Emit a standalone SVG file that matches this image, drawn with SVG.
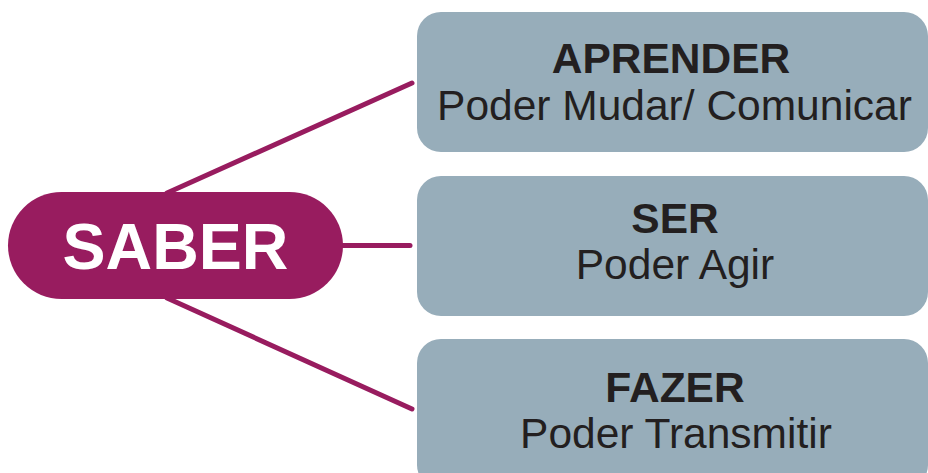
<svg xmlns="http://www.w3.org/2000/svg" width="928" height="473" viewBox="0 0 928 473">
<style>
.box{fill:#97adba}
.t{font-family:"Liberation Sans",Arial,sans-serif;fill:#231f20;text-anchor:middle}
.b{font-weight:bold;font-size:42.5px}
.s{font-size:42.5px}
.c{stroke:#981c5f;stroke-width:5;stroke-linecap:round;fill:none}
</style>
<rect width="928" height="473" fill="#ffffff"/>
<g id="connectors">
<line class="c" x1="167" y1="193" x2="412" y2="83"/>
<line class="c" x1="340" y1="245.5" x2="410" y2="245.5"/>
<line class="c" x1="167" y1="298" x2="412" y2="409"/>
</g>
<g id="saber">
<rect x="8" y="192" width="335" height="107" rx="53.5" fill="#981c5f"/>
<text x="175.5" y="269" font-family="Liberation Sans,Arial,sans-serif" font-weight="bold" font-size="64.5" fill="#ffffff" text-anchor="middle">SABER</text>
</g>
<g id="aprender">
<rect class="box" x="417" y="12" width="511" height="140" rx="24"/>
<text class="t b" x="671" y="73">APRENDER</text>
<text class="t s" x="674.5" y="120">Poder Mudar/ Comunicar</text>
</g>
<g id="ser">
<rect class="box" x="417" y="176" width="511" height="140" rx="24"/>
<text class="t b" x="675" y="232.5">SER</text>
<text class="t s" x="675" y="279">Poder Agir</text>
</g>
<g id="fazer">
<rect class="box" x="417" y="339" width="511" height="150" rx="24"/>
<text class="t b" x="675" y="401.5">FAZER</text>
<text class="t s" x="676" y="448">Poder Transmitir</text>
</g>
</svg>
